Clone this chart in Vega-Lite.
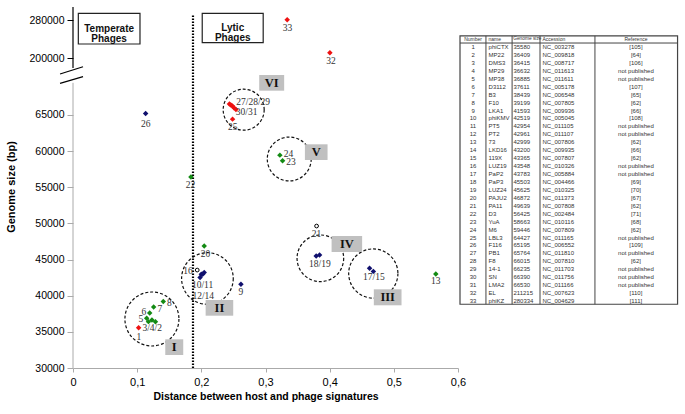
{
  "$schema": "https://vega.github.io/schema/vega-lite/v6.json",
  "background": "white",
  "padding": 5,
  "spacing": 2,
  "bounds": "flush",
  "config": {"view": {"stroke": null}, "font": "Liberation Sans", "concat": {"spacing": 2}},
  "datasets": {
    "phages": [
      {"id": 1, "name": "phiCTX", "size": 35580, "accession": "NC_003278", "ref": "[105]", "distance": 0.1023, "group": "A"},
      {"id": 2, "name": "MP22", "size": 36409, "accession": "NC_009818", "ref": "[64]", "distance": 0.1285, "group": "B"},
      {"id": 3, "name": "DMS3", "size": 36415, "accession": "NC_008717", "ref": "[106]", "distance": 0.1176, "group": "B"},
      {"id": 4, "name": "MP29", "size": 36632, "accession": "NC_011613", "ref": "not published", "distance": 0.123, "group": "B"},
      {"id": 5, "name": "MP38", "size": 36885, "accession": "NC_011611", "ref": "not published", "distance": 0.1148, "group": "B"},
      {"id": 6, "name": "D3112", "size": 37611, "accession": "NC_005178", "ref": "[107]", "distance": 0.1195, "group": "B"},
      {"id": 7, "name": "B3", "size": 38439, "accession": "NC_006548", "ref": "[65]", "distance": 0.1257, "group": "B"},
      {"id": 8, "name": "F10", "size": 39199, "accession": "NC_007805", "ref": "[62]", "distance": 0.1407, "group": "B"},
      {"id": 9, "name": "LKA1", "size": 41593, "accession": "NC_009936", "ref": "[66]", "distance": 0.2617, "group": "C"},
      {"id": 10, "name": "phiKMV", "size": 42519, "accession": "NC_005045", "ref": "[108]", "distance": 0.198, "group": "C"},
      {"id": 11, "name": "PT5", "size": 42954, "accession": "NC_011105", "ref": "not published", "distance": 0.2, "group": "C"},
      {"id": 12, "name": "PT2", "size": 42961, "accession": "NC_011107", "ref": "not published", "distance": 0.202, "group": "C"},
      {"id": 13, "name": "73", "size": 42999, "accession": "NC_007806", "ref": "[62]", "distance": 0.5654, "group": "B"},
      {"id": 14, "name": "LKD16", "size": 43200, "accession": "NC_009935", "ref": "[66]", "distance": 0.2045, "group": "C"},
      {"id": 15, "name": "119X", "size": 43365, "accession": "NC_007807", "ref": "[62]", "distance": 0.4681, "group": "C"},
      {"id": 16, "name": "LUZ19", "size": 43548, "accession": "NC_010326", "ref": "not published", "distance": 0.1936, "group": "D"},
      {"id": 17, "name": "PaP2", "size": 43783, "accession": "NC_005884", "ref": "not published", "distance": 0.4622, "group": "C"},
      {"id": 18, "name": "PaP3", "size": 45503, "accession": "NC_004466", "ref": "[69]", "distance": 0.379, "group": "C"},
      {"id": 19, "name": "LUZ24", "size": 45625, "accession": "NC_010325", "ref": "[70]", "distance": 0.3843, "group": "C"},
      {"id": 20, "name": "PAJU2", "size": 46872, "accession": "NC_011373", "ref": "[67]", "distance": 0.2045, "group": "B"},
      {"id": 21, "name": "PA11", "size": 49639, "accession": "NC_007808", "ref": "[62]", "distance": 0.3796, "group": "D"},
      {"id": 22, "name": "D3", "size": 56425, "accession": "NC_002484", "ref": "[71]", "distance": 0.1838, "group": "B"},
      {"id": 23, "name": "YuA", "size": 58663, "accession": "NC_010116", "ref": "[68]", "distance": 0.3266, "group": "B"},
      {"id": 24, "name": "M6", "size": 59446, "accession": "NC_007809", "ref": "[62]", "distance": 0.3224, "group": "B"},
      {"id": 25, "name": "LBL3", "size": 64427, "accession": "NC_011165", "ref": "not published", "distance": 0.2487, "group": "A"},
      {"id": 26, "name": "F116", "size": 65195, "accession": "NC_006552", "ref": "[109]", "distance": 0.1132, "group": "C"},
      {"id": 27, "name": "PB1", "size": 65764, "accession": "NC_011810", "ref": "not published", "distance": 0.2539, "group": "A"},
      {"id": 28, "name": "F8", "size": 66015, "accession": "NC_007810", "ref": "[62]", "distance": 0.2508, "group": "A"},
      {"id": 29, "name": "14-1", "size": 66235, "accession": "NC_011703", "ref": "not published", "distance": 0.2484, "group": "A"},
      {"id": 30, "name": "SN", "size": 66390, "accession": "NC_011756", "ref": "not published", "distance": 0.246, "group": "A"},
      {"id": 31, "name": "LMA2", "size": 66530, "accession": "NC_011166", "ref": "not published", "distance": 0.2438, "group": "A"},
      {"id": 32, "name": "EL", "size": 211215, "accession": "NC_007623", "ref": "[110]", "distance": 0.4003, "group": "A"},
      {"id": 33, "name": "phiKZ", "size": 280334, "accession": "NC_004629", "ref": "[111]", "distance": 0.3338, "group": "A"}
    ],
    "labels": [
      {"label": "1", "distance": 0.1028, "size": 34330},
      {"label": "3/4/2", "distance": 0.1235, "size": 35575},
      {"label": "5", "distance": 0.1059, "size": 36778},
      {"label": "6", "distance": 0.1106, "size": 37746},
      {"label": "7", "distance": 0.1355, "size": 38120},
      {"label": "8", "distance": 0.15, "size": 39033},
      {"label": "16", "distance": 0.1791, "size": 43460},
      {"label": "10/11", "distance": 0.202, "size": 41481},
      {"label": "12/14", "distance": 0.203, "size": 39960},
      {"label": "9", "distance": 0.2617, "size": 40472},
      {"label": "20", "distance": 0.2064, "size": 45770},
      {"label": "22", "distance": 0.1833, "size": 55314},
      {"label": "24", "distance": 0.3357, "size": 59534},
      {"label": "23", "distance": 0.3396, "size": 58496},
      {"label": "25", "distance": 0.2488, "size": 63379},
      {"label": "27/28/29", "distance": 0.2808, "size": 66754},
      {"label": "30/31", "distance": 0.2705, "size": 65454},
      {"label": "26", "distance": 0.1132, "size": 63752},
      {"label": "21", "distance": 0.3796, "size": 48536},
      {"label": "18/19", "distance": 0.3847, "size": 44345},
      {"label": "17/15", "distance": 0.4688, "size": 42547},
      {"label": "13", "distance": 0.5654, "size": 42076},
      {"label": "33", "distance": 0.3344, "size": 263160},
      {"label": "32", "distance": 0.4019, "size": 193690}
    ],
    "clusters": [
      {"cluster": "I", "distance": 0.123, "size": 36780, "box_x1": 0.1438, "box_x2": 0.1718, "box_y1": 31798, "box_y2": 33970, "label_x": 0.1578, "label_y": 32884},
      {"cluster": "II", "distance": 0.2095, "size": 42380, "box_x1": 0.2067, "box_x2": 0.2497, "box_y1": 37235, "box_y2": 39406, "label_x": 0.2282, "label_y": 38320},
      {"cluster": "III", "distance": 0.468, "size": 43070, "box_x1": 0.4688, "box_x2": 0.512, "box_y1": 38673, "box_y2": 40887, "label_x": 0.4904, "label_y": 39780},
      {"cluster": "IV", "distance": 0.3855, "size": 45175, "box_x1": 0.403, "box_x2": 0.4506, "box_y1": 46046, "box_y2": 48260, "label_x": 0.4268, "label_y": 47153},
      {"cluster": "V", "distance": 0.337, "size": 58910, "box_x1": 0.3614, "box_x2": 0.3967, "box_y1": 58773, "box_y2": 60945, "label_x": 0.379, "label_y": 59859},
      {"cluster": "VI", "distance": 0.266, "size": 65730, "box_x1": 0.2902, "box_x2": 0.3291, "box_y1": 68359, "box_y2": 70531, "label_x": 0.3097, "label_y": 69445}
    ],
    "regions": [
      {"region": "Temperate\nPhages", "x1": 0.0083, "x2": 0.1044, "y1": 229475, "y2": 294106, "lx": 0.0563, "ly": 261790},
      {"region": "Lytic\nPhages", "x1": 0.2014, "x2": 0.2964, "y1": 232212, "y2": 294106, "lx": 0.2489, "ly": 263160}
    ]
  },
  "hconcat": [
    {
      "width": 385,
      "height": 363,
      "layer": [
        {
          "data": {"name": "clusters"},
          "mark": {"type": "point", "shape": "circle", "filled": false, "stroke": "#111", "strokeWidth": 1.2, "strokeDash": [3, 2], "opacity": 1},
          "encoding": {
            "x": {"field": "distance", "type": "quantitative", "title": "Distance between host and phage signatures"},
            "y": {"field": "size", "type": "quantitative", "title": "Genome size (bp)"},
            "size": {"field": "cluster", "type": "ordinal", "scale": {"domain": ["I", "II", "III", "IV", "V", "VI"], "range": [2916, 1681, 961, 1024, 961, 3364]}, "legend": null}
          }
        },
        {
          "data": {"name": "clusters"},
          "mark": {"type": "rect", "fill": "#c0c0c0"},
          "encoding": {
            "x": {"field": "box_x1", "type": "quantitative", "title": "Distance between host and phage signatures"},
            "x2": {"field": "box_x2"},
            "y": {"field": "box_y1", "type": "quantitative", "title": "Genome size (bp)"},
            "y2": {"field": "box_y2"}
          }
        },
        {
          "data": {"name": "clusters"},
          "mark": {"type": "text", "font": "Liberation Serif", "fontWeight": "bold", "fontSize": 12.5, "color": "#111", "align": "center", "baseline": "middle"},
          "encoding": {
            "x": {"field": "label_x", "type": "quantitative", "title": "Distance between host and phage signatures"},
            "y": {"field": "label_y", "type": "quantitative", "title": "Genome size (bp)"},
            "text": {"field": "cluster"}
          }
        },
        {
          "data": {"name": "regions"},
          "mark": {"type": "rect", "fill": "white", "stroke": "#222", "strokeWidth": 1.2},
          "encoding": {
            "x": {"field": "x1", "type": "quantitative", "title": "Distance between host and phage signatures"},
            "x2": {"field": "x2"},
            "y": {"field": "y1", "type": "quantitative", "title": "Genome size (bp)"},
            "y2": {"field": "y2"}
          }
        },
        {
          "data": {"name": "regions"},
          "mark": {"type": "text", "fontWeight": "bold", "fontSize": 10, "lineBreak": "\n", "lineHeight": 10.5, "align": "center", "baseline": "middle", "color": "#111"},
          "encoding": {
            "x": {"field": "lx", "type": "quantitative", "title": "Distance between host and phage signatures"},
            "y": {"field": "ly", "type": "quantitative", "title": "Genome size (bp)"},
            "text": {"field": "region"}
          }
        },
        {
          "data": {"values": [{}]},
          "mark": {"type": "rule", "color": "#000", "strokeWidth": 2.2, "strokeDash": [1.6, 1.4]},
          "encoding": {
            "x": {"datum": 0.187, "type": "quantitative", "title": "Distance between host and phage signatures"},
            "y": {"datum": 30000, "type": "quantitative", "title": "Genome size (bp)"},
            "y2": {"datum": 290530}
          }
        },
        {
          "data": {"values": [{}]},
          "mark": {"type": "rule", "color": "#aaa", "strokeWidth": 1},
          "encoding": {
            "x": {"datum": 0, "type": "quantitative", "title": "Distance between host and phage signatures"},
            "y": {"datum": 30000, "type": "quantitative", "title": "Genome size (bp)"},
            "y2": {"datum": 69450}
          }
        },
        {
          "data": {"values": [{}]},
          "mark": {"type": "rule", "color": "#000", "strokeWidth": 1.2},
          "encoding": {
            "x": {"datum": 0, "type": "quantitative", "title": "Distance between host and phage signatures"},
            "y": {"datum": 178948, "type": "quantitative", "title": "Genome size (bp)"},
            "y2": {"datum": 307370}
          }
        },
        {
          "data": {"values": [{}]},
          "mark": {"type": "rule", "color": "#000", "strokeWidth": 1.2},
          "encoding": {
            "x": {"datum": -0.0202, "type": "quantitative", "title": "Distance between host and phage signatures"},
            "x2": {"datum": 0.0156},
            "y": {"datum": 70669, "type": "quantitative", "title": "Genome size (bp)"},
            "y2": {"datum": 181685}
          }
        },
        {
          "data": {"values": [{}]},
          "mark": {"type": "rule", "color": "#000", "strokeWidth": 1.2},
          "encoding": {
            "x": {"datum": -0.0202, "type": "quantitative", "title": "Distance between host and phage signatures"},
            "x2": {"datum": 0.0156},
            "y": {"datum": 69383, "type": "quantitative", "title": "Genome size (bp)"},
            "y2": {"datum": 70296}
          }
        },
        {
          "data": {"name": "phages"},
          "transform": [{"filter": "datum.group == 'D'"}],
          "mark": {"type": "point", "shape": "circle", "filled": false, "stroke": "#000", "strokeWidth": 1, "size": 14, "opacity": 1},
          "encoding": {
            "x": {"field": "distance", "type": "quantitative", "title": "Distance between host and phage signatures"},
            "y": {"field": "size", "type": "quantitative", "title": "Genome size (bp)"}
          }
        },
        {
          "data": {"name": "phages"},
          "transform": [{"filter": "datum.group != 'D'"}],
          "mark": {"type": "point", "shape": "diamond", "filled": true, "size": 30, "opacity": 1},
          "encoding": {
            "x": {
              "field": "distance", "type": "quantitative", "title": "Distance between host and phage signatures",
              "scale": {"domain": [0, 0.6], "nice": false, "zero": false},
              "axis": {"values": [0, 0.1, 0.2, 0.3, 0.4, 0.5, 0.6], "labelExpr": "datum.value == 0 ? '0' : replace(format(datum.value, '.1f'), '.', ',')", "grid": false, "domainColor": "#aaa", "tickColor": "#aaa", "tickSize": 4, "labelFontSize": 11, "labelColor": "#000", "labelPadding": 4, "labelFlush": false, "titleFontSize": 10.5, "titleFontWeight": "bold", "titleColor": "#000", "titlePadding": 4}
            },
            "y": {
              "field": "size", "type": "quantitative", "title": "Genome size (bp)",
              "scale": {"domain": [30000, 71361, 178948, 311580], "range": [363, 64, 63, 0], "nice": false, "zero": false},
              "axis": {"values": [30000, 35000, 40000, 45000, 50000, 55000, 60000, 65000, 200000, 280000], "format": "d", "grid": false, "domain": false, "tickColor": {"condition": {"test": "datum.value > 100000", "value": "#000"}, "value": "#aaa"}, "tickSize": 6, "labelFontSize": 10.5, "labelColor": "#000", "labelPadding": 3, "titleFontSize": 11, "titleFontWeight": "bold", "titleColor": "#000", "titlePadding": 12}
            },
            "color": {"field": "group", "type": "nominal", "scale": {"domain": ["A", "B", "C"], "range": ["#ee1111", "#138a13", "#10106e"]}, "legend": null}
          }
        },
        {
          "data": {"name": "labels"},
          "mark": {"type": "text", "font": "Liberation Serif", "fontSize": 9.5, "color": "#333", "align": "center", "baseline": "middle"},
          "encoding": {
            "x": {"field": "distance", "type": "quantitative", "title": "Distance between host and phage signatures"},
            "y": {"field": "size", "type": "quantitative", "title": "Genome size (bp)"},
            "text": {"field": "label"}
          }
        }
      ]
    },
    {
      "width": 218,
      "height": 363,
      "layer": [
        {
          "data": {"values": [{}]},
          "mark": {"type": "rect", "fill": null, "fillOpacity": 0, "stroke": "#444", "strokeWidth": 1.2},
          "encoding": {
            "x": {"datum": 0, "type": "quantitative", "scale": {"domain": [0, 100], "nice": false, "zero": false}, "axis": null},
            "x2": {"datum": 99.8},
            "y": {"datum": -0.4, "type": "quantitative", "scale": {"domain": [-4.29, 41.43], "reverse": true, "nice": false, "zero": false}, "axis": null},
            "y2": {"datum": 33.4}
          }
        },
        {
          "data": {"values": [{}]},
          "mark": {"type": "rule", "color": "#444", "strokeWidth": 1},
          "encoding": {"x": {"datum": 0}, "x2": {"datum": 99.8}, "y": {"datum": 0.5}}
        },
        {
          "data": {"values": [{}]},
          "mark": {"type": "rule", "color": "#444", "strokeWidth": 1},
          "encoding": {"x": {"datum": 11.9}, "y": {"datum": -0.4}, "y2": {"datum": 33.4}}
        },
        {
          "data": {"values": [{}]},
          "mark": {"type": "rule", "color": "#444", "strokeWidth": 1},
          "encoding": {"x": {"datum": 23.9}, "y": {"datum": -0.4}, "y2": {"datum": 33.4}}
        },
        {
          "data": {"values": [{}]},
          "mark": {"type": "rule", "color": "#444", "strokeWidth": 1},
          "encoding": {"x": {"datum": 36.7}, "y": {"datum": -0.4}, "y2": {"datum": 33.4}}
        },
        {
          "data": {"values": [{}]},
          "mark": {"type": "rule", "color": "#444", "strokeWidth": 1},
          "encoding": {"x": {"datum": 61.9}, "y": {"datum": -0.4}, "y2": {"datum": 33.4}}
        },
        {
          "data": {"values": [{"h": "Number"}]},
          "mark": {"type": "text", "fontSize": 5, "color": "#333", "align": "center", "baseline": "middle"},
          "encoding": {"x": {"datum": 6}, "y": {"datum": 0}, "text": {"field": "h"}}
        },
        {
          "data": {"values": [{"h": "name"}]},
          "mark": {"type": "text", "fontSize": 5, "color": "#333", "align": "left", "baseline": "middle"},
          "encoding": {"x": {"datum": 13.1}, "y": {"datum": 0}, "text": {"field": "h"}}
        },
        {
          "data": {"values": [{"h": "Genome size"}]},
          "mark": {"type": "text", "fontSize": 4.8, "color": "#333", "align": "left", "baseline": "middle"},
          "encoding": {"x": {"datum": 24.4}, "y": {"datum": 0}, "text": {"field": "h"}}
        },
        {
          "data": {"values": [{"h": "Accession"}]},
          "mark": {"type": "text", "fontSize": 5, "color": "#333", "align": "left", "baseline": "middle"},
          "encoding": {"x": {"datum": 37.8}, "y": {"datum": 0}, "text": {"field": "h"}}
        },
        {
          "data": {"values": [{"h": "Reference"}]},
          "mark": {"type": "text", "fontSize": 5, "color": "#333", "align": "center", "baseline": "middle"},
          "encoding": {"x": {"datum": 80.7}, "y": {"datum": 0}, "text": {"field": "h"}}
        },
        {
          "data": {"name": "phages"},
          "mark": {"type": "text", "fontSize": 6, "color": "#333", "align": "center", "baseline": "middle"},
          "encoding": {"x": {"datum": 6}, "y": {"field": "id", "type": "quantitative"}, "text": {"field": "id", "type": "nominal"}}
        },
        {
          "data": {"name": "phages"},
          "mark": {"type": "text", "fontSize": 6, "color": "#333", "align": "left", "baseline": "middle"},
          "encoding": {"x": {"datum": 13.1}, "y": {"field": "id", "type": "quantitative"}, "text": {"field": "name", "type": "nominal"}}
        },
        {
          "data": {"name": "phages"},
          "mark": {"type": "text", "fontSize": 6, "color": "#333", "align": "left", "baseline": "middle"},
          "encoding": {"x": {"datum": 24.5}, "y": {"field": "id", "type": "quantitative"}, "text": {"field": "size", "type": "nominal"}}
        },
        {
          "data": {"name": "phages"},
          "mark": {"type": "text", "fontSize": 6, "color": "#333", "align": "left", "baseline": "middle"},
          "encoding": {"x": {"datum": 37.8}, "y": {"field": "id", "type": "quantitative"}, "text": {"field": "accession", "type": "nominal"}}
        },
        {
          "data": {"name": "phages"},
          "mark": {"type": "text", "fontSize": 6, "color": "#333", "align": "center", "baseline": "middle"},
          "encoding": {"x": {"datum": 80.7}, "y": {"field": "id", "type": "quantitative"}, "text": {"field": "ref", "type": "nominal"}}
        }
      ]
    }
  ]
}
